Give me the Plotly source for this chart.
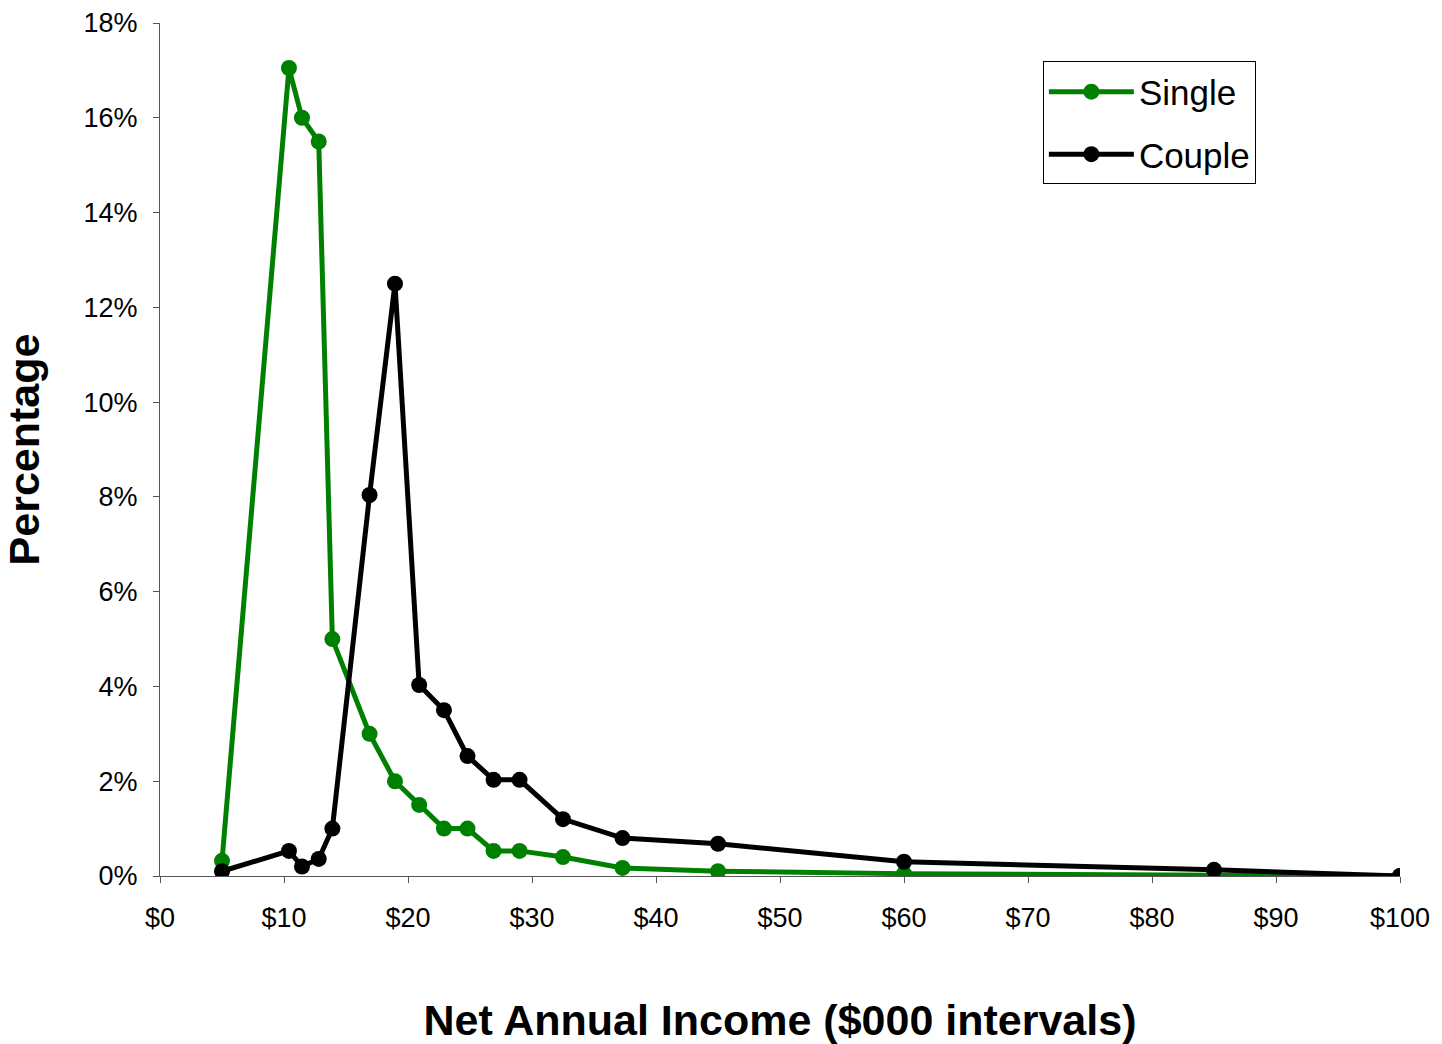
import plotly.graph_objects as go

# Income interval midpoints ($000)
income = [5, 10.4, 11.45, 12.8, 13.9, 16.9, 18.95, 20.9, 22.9, 24.8, 26.9, 29.0,
          32.5, 37.3, 45, 60, 85, 100]

# Share of households in each interval (%)
single = [0.32, 17.05, 16.0, 15.5, 5.0, 3.0, 2.0, 1.5, 1.0, 1.0, 0.53, 0.53,
          0.4, 0.17, 0.1, 0.05, 0.01, 0.0]
couple = [0.1, 0.53, 0.2, 0.36, 1.0, 8.04, 12.5, 4.03, 3.5, 2.53, 2.03, 2.03,
          1.2, 0.8, 0.68, 0.3, 0.13, 0.0]

FONT = "Liberation Sans, Arial, sans-serif"

fig = go.Figure()
fig.add_trace(go.Scatter(
    x=income, y=single, name="Single", mode="lines+markers", legendgroup="s",
    line=dict(color="#008000", width=5),
    marker=dict(color="#008000", size=16),
))
fig.add_trace(go.Scatter(
    x=income, y=couple, name="Couple", mode="lines+markers", legendgroup="c",
    line=dict(color="#000000", width=5),
    marker=dict(color="#000000", size=16),
))

fig.update_layout(
    width=1442, height=1044,
    margin=dict(l=160, r=42, t=23, b=168),
    paper_bgcolor="white", plot_bgcolor="white",
    font=dict(family=FONT, color="black"),
    showlegend=True,
    legend=dict(
        x=0.712, y=0.955, xanchor="left", yanchor="top",
        bordercolor="black", borderwidth=1, bgcolor="white",
        font=dict(size=35, family=FONT),
        tracegroupgap=14, itemwidth=85,
    ),
    xaxis=dict(
        range=[0, 100], dtick=10, tick0=0, tickprefix="$",
        showgrid=False, zeroline=False, automargin=False,
        showline=True, linecolor="#555555", linewidth=1,
        ticks="outside", ticklen=6, tickcolor="#555555",
        ticklabelstandoff=12,
        tickfont=dict(size=27, family=FONT),
        title=dict(text="<b>Net Annual Income ($000 intervals)</b>",
                   font=dict(size=43, family=FONT), standoff=72),
    ),
    yaxis=dict(
        range=[0, 18], dtick=2, tick0=0, ticksuffix="%",
        showgrid=False, zeroline=False, automargin=False,
        showline=True, linecolor="#555555", linewidth=1,
        ticks="outside", ticklen=6, tickcolor="#555555",
        ticklabelstandoff=10,
        tickfont=dict(size=27, family=FONT),
        title=dict(text="<b>Percentage</b>",
                   font=dict(size=43, family=FONT), standoff=30),
    ),
)

fig.write_html("out.html")
